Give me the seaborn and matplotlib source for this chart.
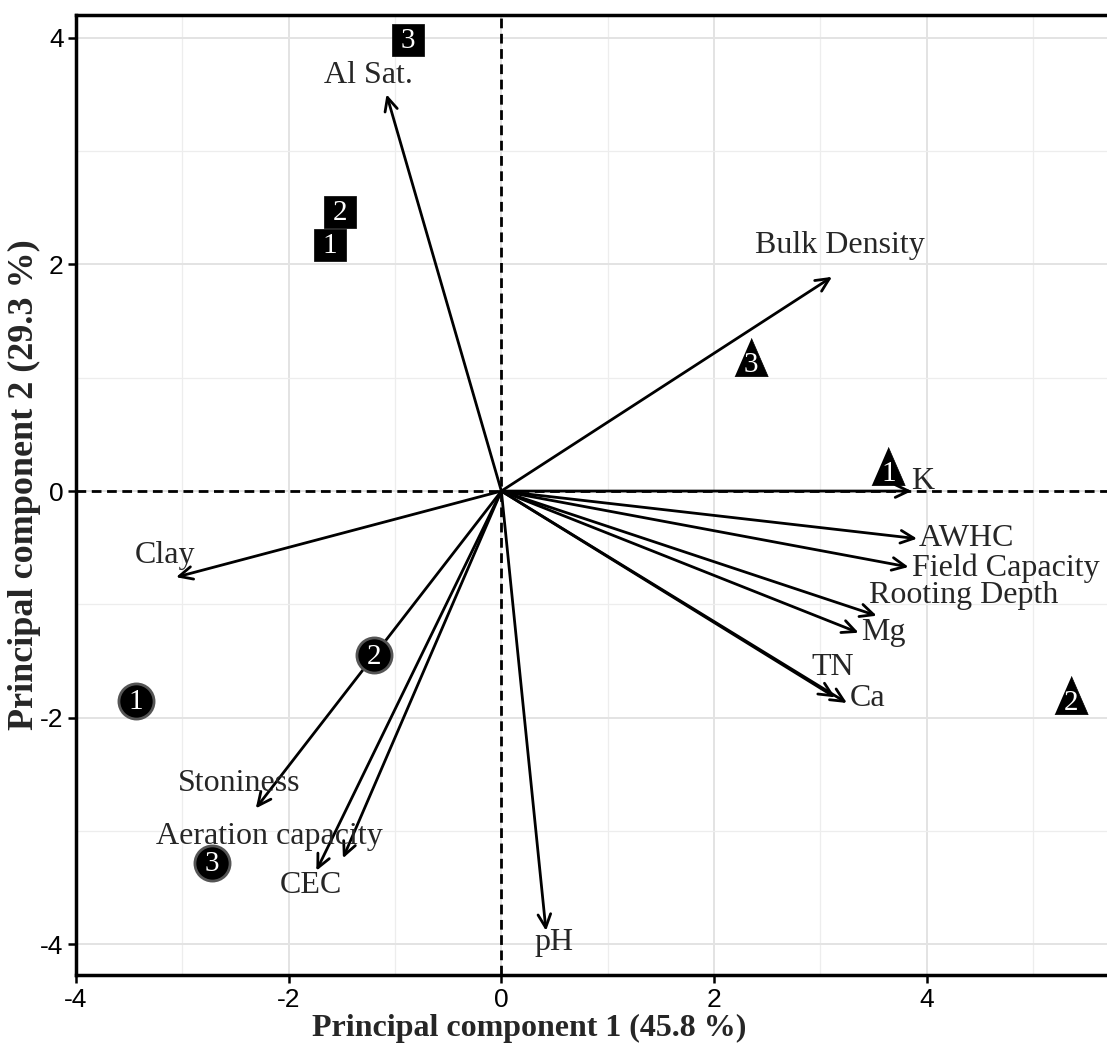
import matplotlib
matplotlib.use("Agg")
import matplotlib.pyplot as plt
import seaborn as sns
import pandas as pd
import numpy as np
from matplotlib.ticker import MultipleLocator

# ---- data ----
var_names = ["Al Sat.", "Bulk Density", "K", "AWHC", "Field Capacity", "Rooting Depth",
             "Mg", "TN", "Ca", "pH", "CEC", "Aeration capacity", "Stoniness", "Clay"]
var_x = [-1.08, 3.11, 3.86, 3.91, 3.83, 3.53, 3.36, 3.14, 3.25, 0.42, -1.74, -1.49, -2.31, -3.06]
var_y = [3.50, 1.89, 0.00, -0.42, -0.67, -1.10, -1.25, -1.82, -1.87, -3.88, -3.35, -3.24, -2.80, -0.76]
lab_x = [-1.25, 3.18, 3.96, 4.37, 4.74, 4.35, 3.59, 3.12, 3.44, 0.50, -1.79, -2.18, -2.47, -3.16]
lab_y = [3.67, 2.17, 0.08, -0.42, -0.68, -0.92, -1.25, -1.56, -1.83, -3.98, -3.48, -3.05, -2.58, -0.57]

obs_group = ["square", "square", "square", "triangle", "triangle", "triangle", "circle", "circle", "circle"]
obs_label = ["3", "2", "1", "3", "1", "2", "1", "2", "3"]
obs_x = [-0.88, -1.52, -1.61, 2.35, 3.64, 5.36, -3.44, -1.20, -2.72]
obs_y = [3.98, 2.46, 2.17, 1.18, 0.22, -1.80, -1.85, -1.45, -3.28]

x_ticks = [-4, -2, 0, 2, 4]
y_ticks = [-4, -2, 0, 2, 4]
x_title = "Principal component 1 (45.8 %)"
y_title = "Principal component 2 (29.3 %)"

# ---- plot ----
sns.set_theme(style="white")
plt.rcParams["font.family"] = ["Liberation Serif", "DejaVu Serif"]
plt.rcParams["axes.unicode_minus"] = False

fig = plt.figure(figsize=(11.07, 10.5), dpi=100)
ax = fig.add_axes([0.0687, 0.0714, 0.9413, 0.9143])

df = pd.DataFrame({"x": obs_x, "y": obs_y, "group": obs_group, "label": obs_label})

tri = [(-0.87, -1.0), (0.87, -1.0), (0.0, 1.0)]
styles = {
    "square": dict(marker="s", s=560, edgecolor="black", linewidth=0.5),
    "circle": dict(marker="o", s=640, edgecolor="#555555", linewidth=2.0),
    "triangle": dict(marker=tri, s=760, edgecolor="black", linewidth=0.5),
}
for g, st in styles.items():
    sub = df[df["group"] == g]
    sns.scatterplot(data=sub, x="x", y="y", color="black", ax=ax, zorder=4,
                    legend=False, **st)
for _, r in df.iterrows():
    dy = -0.07 if r["group"] == "triangle" else -0.01
    ax.text(r["x"], r["y"] + dy, r["label"], color="white", fontsize=21,
            ha="center", va="center", zorder=5)

# reference lines
ax.axhline(0, color="black", lw=2, ls=(0, (3.5, 2)), zorder=2)
ax.axvline(0, color="black", lw=2, ls=(0, (3.5, 2)), zorder=2)

# arrows
for vx, vy in zip(var_x, var_y):
    ax.annotate("", xy=(vx, vy), xytext=(0, 0),
                arrowprops=dict(arrowstyle="->,head_length=0.8,head_width=0.38",
                                color="black", lw=2.0, shrinkA=0, shrinkB=0),
                zorder=3)
for name, lx, ly in zip(var_names, lab_x, lab_y):
    ax.text(lx, ly, name, fontsize=23, ha="center", va="center", zorder=6)

ax.set_xlim(-3.97, 5.80)
ax.set_ylim(-4.27, 4.20)
ax.set_xticks(x_ticks)
ax.set_yticks(y_ticks)
ax.xaxis.set_minor_locator(MultipleLocator(1))
ax.yaxis.set_minor_locator(MultipleLocator(1))
ax.grid(which="major", color="#e3e3e3", lw=1.4, zorder=0)
ax.grid(which="minor", color="#ededed", lw=0.9, zorder=0)
ax.set_axisbelow(True)

ax.tick_params(axis="both", which="major", direction="out", length=6, width=1.8,
               color="black", labelsize=19, labelcolor="black", bottom=True, left=True,
               pad=3)
ax.tick_params(axis="both", which="minor", length=0)
for lab in ax.get_xticklabels() + ax.get_yticklabels():
    lab.set_fontfamily(["Liberation Sans", "DejaVu Sans"])
for s in ["top", "bottom", "left", "right"]:
    ax.spines[s].set_color("black")
    ax.spines[s].set_linewidth(2.5)

ax.set_xlabel(x_title, fontsize=23, fontweight="bold")
ax.set_ylabel(y_title, fontsize=26, fontweight="bold")
axw = 0.9413 * 1107
axh = 0.9143 * 1050
ax.xaxis.set_label_coords((529 - 76) / axw, -(1028 - 975) / axh)
ax.yaxis.set_label_coords(-(76 - 24) / axw, (975 - 485) / axh)
ax.xaxis.label.set_va("center")
ax.yaxis.label.set_va("center")

fig.savefig("out.png", dpi=100)
